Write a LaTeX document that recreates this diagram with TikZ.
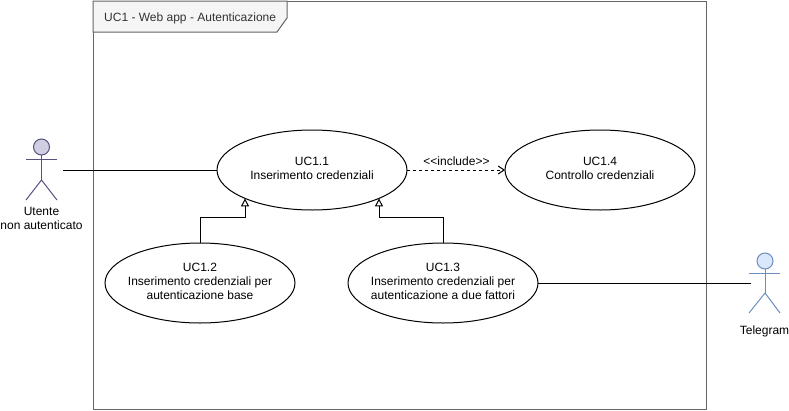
\documentclass[tikz,border=0pt]{standalone}
\usepackage{fontspec}
\setmainfont{Liberation Sans}
\usetikzlibrary{arrows.meta,shapes.geometric}
\tikzset{
  uc/.style={ellipse,draw=black,fill=white,line width=1pt,minimum width=190pt,minimum height=80pt,inner sep=0pt,outer sep=0pt},
  lbl/.style={align=center,inner sep=0pt,font=\fontsize{12}{14}\selectfont},
  conn/.style={line width=1pt,draw=black},
  gen/.style={conn,-{Triangle[open,length=8pt,width=8pt,fill=white]}},
  incl/.style={conn,dashed,dash pattern=on 3pt off 3pt,-{Straight Barb[length=6pt,width=8pt]}},
  head/.style={circle,draw=#1,line width=1pt,minimum size=16pt,inner sep=0pt,outer sep=0pt},
  limb/.style={line width=1pt,draw=#1}
}
\definecolor{purS}{HTML}{56517E}\definecolor{purF}{HTML}{D0CEE2}
\definecolor{bluS}{HTML}{6C8EBF}\definecolor{bluF}{HTML}{DAE8FC}
\begin{document}
\begin{tikzpicture}[x=1pt,y=-1pt]
\useasboundingbox (0,0) rectangle (789,410);
% frame
\draw[line width=1pt,draw=black!60,fill=white] (93,1) rectangle (706,409);
\draw[line width=1pt,draw=black!60,fill=black!4] (93,1) -- (287,1) -- (287,18) -- (277,32) -- (93,32) -- cycle;
\node[lbl,anchor=west,text=black!80] (title) at (104,18) {UC1 - Web app - Autenticazione};
% coordinates
\coordinate (a1hand) at (63,170);
\coordinate (a2hand) at (751,283);
\coordinate (t1) at (245,198.4);
\coordinate (t2) at (379,198.4);
\coordinate (e1) at (245,217);
\coordinate (e2) at (379,217);
% use cases
\node[uc] (uc11) at (312,170) {};
\node[uc] (uc14) at (600,170) {};
\node[uc] (uc12) at (200,283) {};
\node[uc] (uc13) at (443,283) {};
\node[lbl] (uc11t) at (312,168) {UC1.1\\Inserimento credenziali};
\node[lbl] (uc14t) at (600,168) {UC1.4\\Controllo credenziali};
\node[lbl] (uc12t) at (200,281.5) {UC1.2\\Inserimento credenziali per\\autenticazione base};
\node[lbl] (uc13t) at (443,281.5) {UC1.3\\Inserimento credenziali per\\autenticazione a due fattori};
% connectors
\draw[conn] (a1hand) -- (uc11.west);
\draw[conn] (uc13.east) -- (a2hand);
\draw[incl] (uc11.east) -- (uc14.west);
\node[lbl] (inc) at (456.5,161) {<{}<include>{}>};
\draw[gen] (uc12.north) |- (e1) -- (t1);
\draw[gen] (uc13.north) |- (e2) -- (t2);
% actor 1
\node[head=purS,fill=purF] (h1) at (41.5,147) {};
\coordinate (hip1) at (41.5,180);
\draw[limb=purS] (h1.south) -- (hip1);
\draw[limb=purS] (26,159) -- (57,159);
\draw[limb=purS] (26,200) -- (hip1) -- (57,200);
\node[lbl] (a1) at (41.5,218.5) {Utente\\non autenticato};
% actor 2
\node[head=bluS,fill=bluF] (h2) at (765,261) {};
\coordinate (hip2) at (765,293);
\draw[limb=bluS] (h2.south) -- (hip2);
\draw[limb=bluS] (749,273) -- (780,273);
\draw[limb=bluS] (749,313) -- (hip2) -- (780,313);
\node[lbl] (a2) at (764.5,331) {Telegram};
\end{tikzpicture}
\end{document}
